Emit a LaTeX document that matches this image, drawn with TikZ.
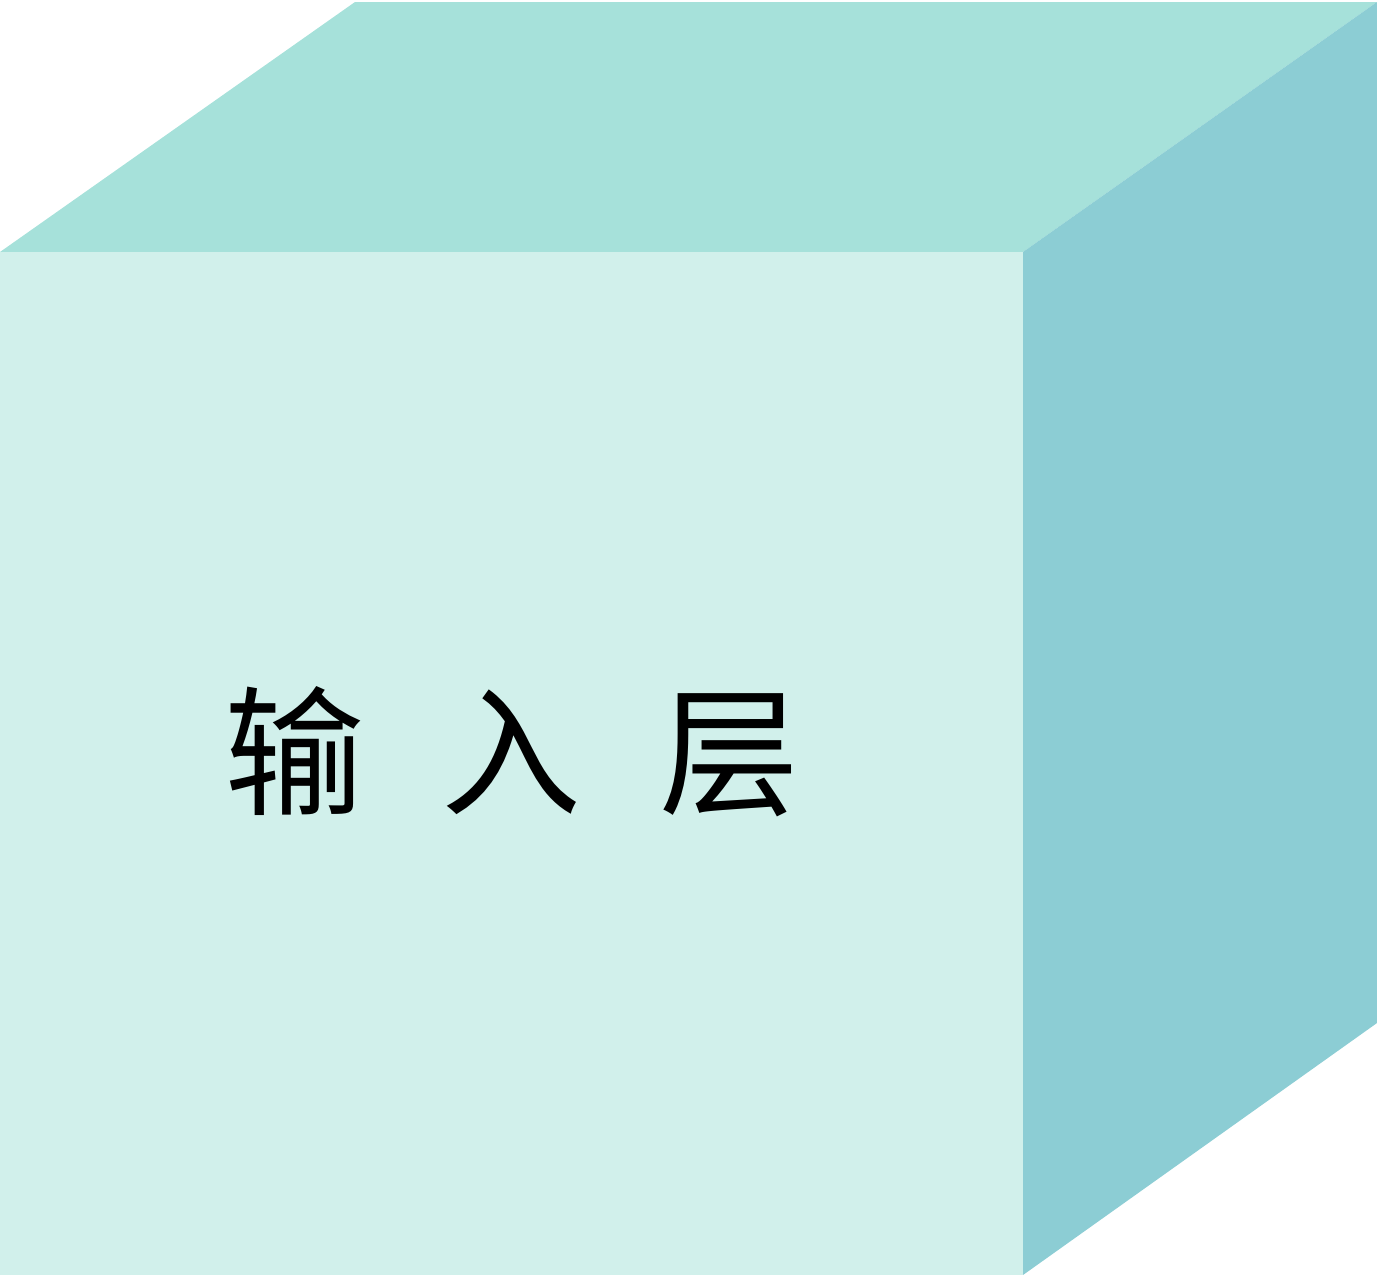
\documentclass[tikz,border=0pt]{standalone}
\usepackage{fontspec}
\newfontfamily\cjk{Noto Sans CJK SC}
\definecolor{frontc}{HTML}{D1F0EB}
\definecolor{topc}{HTML}{A6E1DA}
\definecolor{sidec}{HTML}{8CCDD4}
\begin{document}
\begin{tikzpicture}[x=1pt,y=-1pt]
\useasboundingbox (0,0) rectangle (1377,1275);
\coordinate (A) at (0,252);
\coordinate (B) at (1023,252);
\coordinate (C) at (1023,1275);
\coordinate (D) at (0,1275);
\coordinate (E) at (355,2);
\coordinate (F) at (1377,2);
\coordinate (G) at (1377,1023);
\fill[topc] (A) -- (E) -- (F) -- (B) -- cycle;
\fill[sidec] (B) -- (F) -- (G) -- (C) -- cycle;
\fill[frontc] (A) -- (B) -- (C) -- (D) -- cycle;
\node[font=\cjk\fontsize{140pt}{145pt}\selectfont, inner sep=0pt] (label) at (512,752) {输\hspace{78pt}入\hspace{78pt}层};
\end{tikzpicture}
\end{document}
